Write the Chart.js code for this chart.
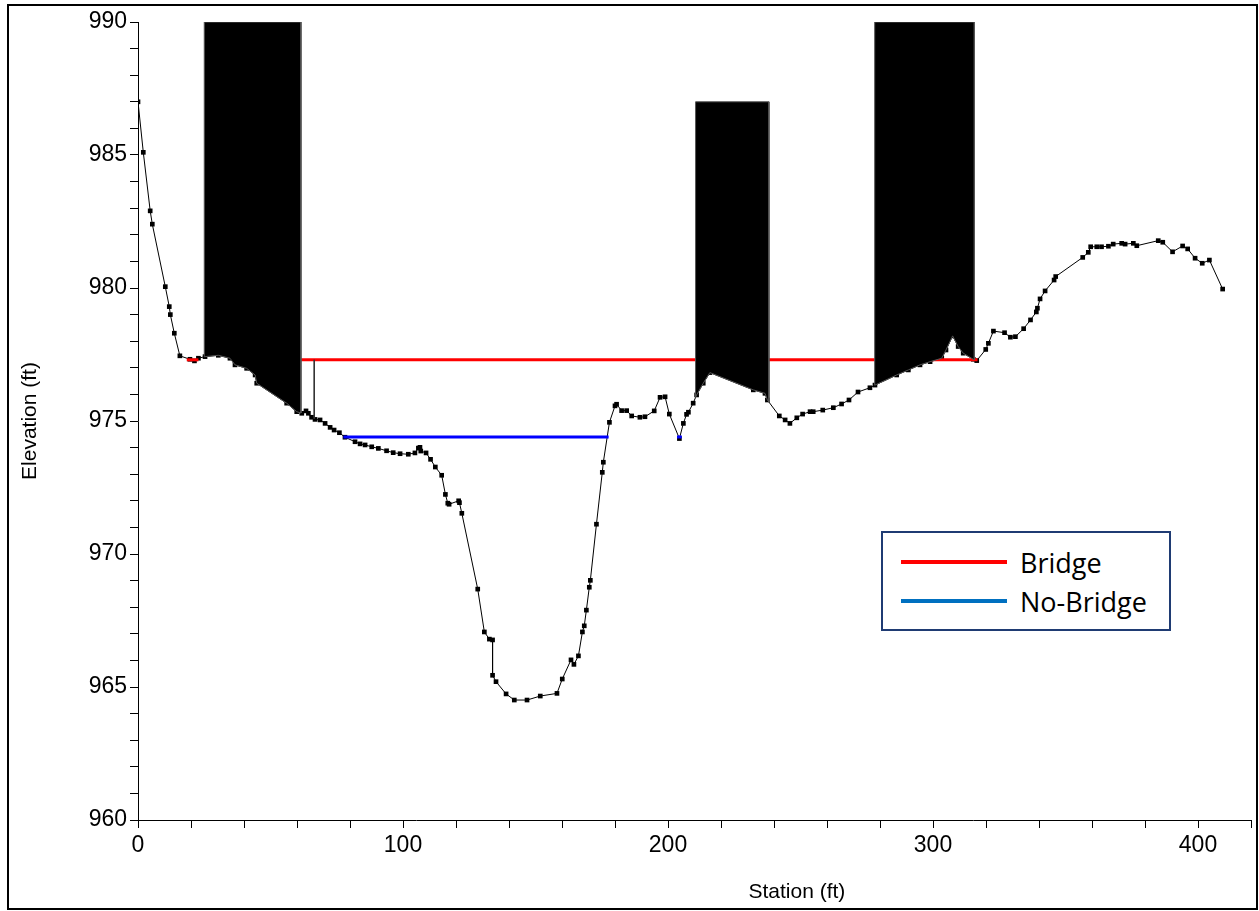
<!DOCTYPE html>
<html>
<head>
<meta charset="utf-8">
<script src="https://cdn.jsdelivr.net/npm/chart.js@4.4.1/dist/chart.umd.min.js"></script>
<style>
  body { margin: 0; background: #fff; }
  #wrap { position: relative; width: 1259px; height: 911px; overflow: hidden; }
  #frame { position: absolute; left: 7px; top: 4px; width: 1251px; height: 906px; border: 2px solid #000; box-sizing: border-box; }
  #graph { position: absolute; left: 0; top: 0; }
  #legend { position: absolute; left: 881px; top: 531px; width: 290px; height: 100px; box-sizing: border-box;
            border: 2px solid #1f3b73; background: #fff; font-family: "Open Sans", sans-serif; font-size: 27px; color: #000; }
  .row { position: absolute; left: 18px; height: 36px; display: flex; align-items: center; }
  .row span.ln { display: inline-block; width: 106px; height: 4px; margin-right: 13px; }
</style>
</head>
<body>
<div id="wrap">
  <div id="frame"></div>
  <canvas id="graph" width="1259" height="911"></canvas>
  <div id="legend">
    <div class="row" style="top:11px"><span class="ln" style="background:#ff0000"></span>Bridge</div>
    <div class="row" style="top:50px"><span class="ln" style="background:#0070c0"></span>No-Bridge</div>
  </div>
</div>
<script>
// ground profile (station ft, elevation ft)
const groundStation = [0, 2.0, 4.6, 5.4, 10.3, 11.8, 12.2, 13.7, 15.8, 19.6, 21.3, 22.8, 25.3,
  30.3, 34.7, 36.6, 41.0, 44.2, 44.8, 56.1, 59.9, 61.8, 63.4, 64.3, 65.5, 66.8, 68.7, 70.6, 72.5,
  74.0, 76.0, 78.1, 81.9, 83.8, 85.7, 88.2, 90.7, 93.8, 96.3, 98.9, 102.0, 104.5, 105.8, 106.4,
  106.7, 108.7, 110.4, 112.2, 114.6, 116.0, 116.9, 117.4, 121.0, 121.3, 122.2, 128.2, 130.7,
  132.6, 133.8, 133.8, 135.1, 138.9, 142.0, 146.8, 151.8, 158.1, 160.1, 163.4, 164.5, 166.2,
  167.7, 168.4, 169.2, 170.3, 170.7, 173.0, 175.2, 175.6, 177.9, 180.0, 180.6, 182.5, 184.4,
  186.3, 189.4, 191.3, 194.8, 197.0, 198.9, 200.5, 204.3, 205.8, 207.0, 207.7, 209.5, 210.8,
  213.3, 215.8, 232.2, 236.6, 237.5, 242.0, 244.2, 246.0, 248.6, 250.8, 253.6, 254.8, 258.4,
  262.4, 265.5, 268.3, 271.7, 276.2, 278.1, 286.3, 290.7, 295.1, 298.9, 303.3, 304.9, 307.4,
  309.5, 311.4, 315.2, 316.5, 319.9, 320.9, 322.8, 327.0, 329.2, 331.1, 334.2, 336.8, 339.0,
  339.4, 340.4, 342.3, 345.7, 346.3, 356.5, 358.6, 359.5, 361.8, 363.6, 366.2, 368.0, 371.2,
  372.5, 375.6, 376.9, 385.0, 386.7, 390.4, 394.2, 396.1, 398.9, 401.6, 404.3, 409.3];
const groundElev = [987.0, 985.1, 982.9, 982.4, 980.05, 979.3, 979.0, 978.3, 977.45, 977.32, 977.26, 977.36, 977.42,
  977.47, 977.36, 977.11, 976.98, 976.73, 976.42, 975.67, 975.35, 975.29, 975.38, 975.29, 975.14, 975.06, 975.04, 974.91, 974.76,
  974.66, 974.56, 974.39, 974.22, 974.14, 974.10, 974.03, 973.97, 973.88, 973.81, 973.77, 973.75, 973.80, 973.98, 974.01,
  973.87, 973.80, 973.56, 973.27, 972.96, 972.24, 971.91, 971.87, 972.0, 971.93, 971.53, 968.68, 967.07,
  966.8, 966.77, 965.44, 965.2, 964.74, 964.51, 964.51, 964.66, 964.76, 965.3, 966.02, 965.85, 966.17,
  967.07, 967.30, 967.89, 968.75, 969.01, 971.12, 973.07, 973.45, 974.95, 975.57, 975.63, 975.39, 975.39,
  975.19, 975.14, 975.16, 975.38, 975.89, 975.91, 975.26, 974.34, 974.91, 975.25, 975.33, 975.67, 975.98,
  976.42, 976.82, 976.17, 976.04, 975.79, 975.19, 975.04, 974.91, 975.12, 975.26, 975.35, 975.35, 975.41,
  975.50, 975.64, 975.79, 976.09, 976.25, 976.35, 976.73, 976.92, 977.11, 977.23, 977.36, 977.67, 978.2,
  977.8, 977.55, 977.32, 977.27, 977.69, 977.92, 978.38, 978.32, 978.15, 978.17, 978.47, 978.8, 979.1,
  979.24, 979.59, 979.89, 980.30, 980.43, 981.15, 981.34, 981.55, 981.55, 981.55, 981.57, 981.65, 981.68,
  981.65, 981.68, 981.59, 981.78, 981.72, 981.36, 981.58, 981.47, 981.12, 980.93, 981.05, 979.96];

// bridge deck / pier blocks
const deckLeft = [25.0, 210.4, 278.0];
const deckRight = [61.5, 238.1, 315.6];
const deckTop = [990, 987.0, 990];

// water surfaces
const bridgeWs = 977.3;
const bridgeWsFrom = [18.4, 61.5];
const bridgeWsTo = [22.8, 316.8];
const noBridgeWs = 974.4;
const noBridgeWsFrom = [77.5, 203.4];
const noBridgeWsTo = [177.6, 205.2];
const wsEdgeStation = 66.5;

const xMin = 0, xMax = 420, xMinor = 20, xMajor = 100;
const yMin = 960, yMax = 990, yMinor = 1, yMajor = 5;

const ground = groundStation.map((x, i) => ({ x: x, y: groundElev[i] }));

function groundAt(x) {
  for (let i = 1; i < ground.length; i++) {
    const a = ground[i - 1], b = ground[i];
    if (x >= a.x && x <= b.x) {
      if (b.x === a.x) return a.y;
      return a.y + (b.y - a.y) * (x - a.x) / (b.x - a.x);
    }
  }
  return ground[ground.length - 1].y;
}

const datasets = [];

// blocks on top
deckLeft.forEach((l, i) => {
  const r = deckRight[i];
  const pts = [{ x: l, y: deckTop[i] }, { x: r, y: deckTop[i] }, { x: r, y: groundAt(r) }];
  ground.filter(p => p.x > l && p.x < r).reverse().forEach(p => pts.push(p));
  pts.push({ x: l, y: groundAt(l) });
  pts.push({ x: l, y: deckTop[i] });
  datasets.push({
    data: pts, showLine: true, fill: 'shape', backgroundColor: '#000',
    borderColor: '#555', borderWidth: 1, pointRadius: 0, order: 0
  });
});

datasets.push({
  data: [{ x: wsEdgeStation, y: bridgeWs }, { x: wsEdgeStation, y: groundAt(wsEdgeStation) }],
  showLine: true, borderColor: '#333', borderWidth: 1, pointRadius: 0, order: 1
});

bridgeWsFrom.forEach((a, i) => {
  datasets.push({
    data: [{ x: a, y: bridgeWs }, { x: bridgeWsTo[i], y: bridgeWs }],
    showLine: true, borderColor: '#ff0000', borderWidth: 3, pointRadius: 0, order: 2
  });
});
noBridgeWsFrom.forEach((a, i) => {
  datasets.push({
    data: [{ x: a, y: noBridgeWs }, { x: noBridgeWsTo[i], y: noBridgeWs }],
    showLine: true, borderColor: '#0000ff', borderWidth: 3, pointRadius: 0, order: 2
  });
});

datasets.push({
  data: ground, showLine: true, borderColor: '#000', borderWidth: 1,
  pointStyle: 'rect', pointRadius: 3.3, pointBackgroundColor: '#000', pointBorderWidth: 0, order: 3
});

const xTitle = {
  id: 'xTitle',
  afterDraw(chart) {
    const ctx = chart.ctx, a = chart.chartArea;
    ctx.save();
    ctx.font = '21px "Liberation Sans", Arial, sans-serif';
    ctx.fillStyle = '#000';
    ctx.textAlign = 'center';
    ctx.textBaseline = 'middle';
    ctx.fillText('Station (ft)', a.left + (a.right - a.left) * 0.592, 892);
    ctx.restore();
  }
};

const tickFont = { family: '"Liberation Sans", Arial, sans-serif', size: 23 };

new Chart(document.getElementById('graph'), {
  type: 'scatter',
  data: { datasets: datasets },
  plugins: [xTitle],
  options: {
    responsive: false,
    animation: false,
    devicePixelRatio: 1,
    layout: { padding: { left: 8, right: 8, top: 22, bottom: 31 } },
    plugins: { legend: { display: false }, tooltip: { enabled: false } },
    scales: {
      x: {
        type: 'linear', min: xMin, max: xMax,
        afterFit: s => { s.height = 60; },
        ticks: {
          stepSize: xMinor, autoSkip: false, maxRotation: 0, padding: 4, color: '#000', font: tickFont,
          callback: v => (v % xMajor === 0 ? String(v) : '')
        },
        grid: { drawOnChartArea: false, drawTicks: true, tickLength: 8, color: '#000' },
        border: { display: true, color: '#000', width: 1 }
      },
      y: {
        type: 'linear', min: yMin, max: yMax,
        afterFit: s => { s.width = 130; },
        title: { display: true, text: 'Elevation (ft)', color: '#000',
                 font: { family: '"Liberation Sans", Arial, sans-serif', size: 21 }, padding: { top: 10, bottom: 0 } },
        ticks: {
          stepSize: yMinor, autoSkip: false, padding: 3, color: '#000', font: tickFont,
          callback: v => (v % yMajor === 0 ? String(v) : '')
        },
        grid: { drawOnChartArea: false, drawTicks: true, tickLength: 8, color: '#000' },
        border: { display: true, color: '#000', width: 1 }
      }
    }
  }
});
</script>
</body>
</html>
